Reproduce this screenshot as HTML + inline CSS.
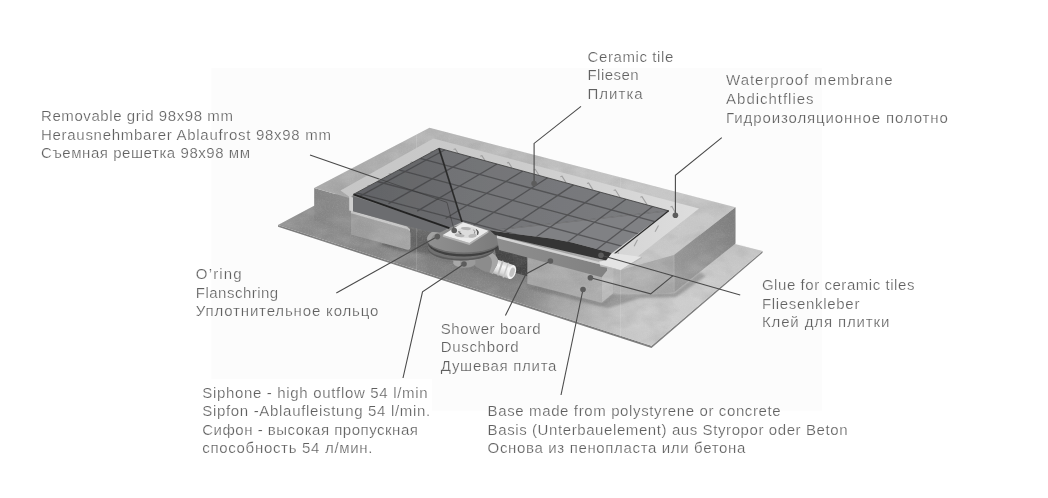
<!DOCTYPE html>
<html><head><meta charset="utf-8"><title>Shower drain diagram</title>
<style>
html,body{margin:0;padding:0;background:#fff;}
body{width:1048px;height:498px;overflow:hidden;position:relative;font-family:"Liberation Sans",sans-serif;}
svg{position:absolute;left:0;top:0;display:block}
text{font-family:"Liberation Sans",sans-serif;font-size:15px;fill:#5e5e5e;}
</style></head>
<body>
<svg width="1048" height="498" viewBox="0 0 1048 498">
<defs>
<linearGradient id="gSlab" gradientUnits="userSpaceOnUse" x1="280" y1="0" x2="760" y2="0">
<stop offset="0" stop-color="#8e8e8e"/><stop offset="0.2" stop-color="#878787"/><stop offset="0.29" stop-color="#808080"/><stop offset="0.5" stop-color="#868686"/><stop offset="0.6" stop-color="#a0a0a0"/><stop offset="0.7" stop-color="#b6b6b6"/><stop offset="0.82" stop-color="#c1c1c1"/><stop offset="1" stop-color="#b8b8b8"/></linearGradient>
<linearGradient id="gTop" gradientUnits="userSpaceOnUse" x1="314" y1="0" x2="736" y2="0">
<stop offset="0" stop-color="#a8a8a8"/><stop offset="0.4" stop-color="#b8b8b8"/><stop offset="0.8" stop-color="#c8c8c8"/><stop offset="1" stop-color="#c6c6c6"/></linearGradient>
<linearGradient id="gMem" gradientUnits="userSpaceOnUse" x1="338" y1="0" x2="700" y2="0">
<stop offset="0" stop-color="#c6c6c6"/><stop offset="0.5" stop-color="#cccccc"/><stop offset="0.85" stop-color="#d8d8d8"/><stop offset="1" stop-color="#dedede"/></linearGradient>
<linearGradient id="gTile" gradientUnits="userSpaceOnUse" x1="354" y1="0" x2="668" y2="0">
<stop offset="0" stop-color="#6c6d70"/><stop offset="0.45" stop-color="#747578"/><stop offset="1" stop-color="#7c7d80"/></linearGradient>
<linearGradient id="gTileL" gradientUnits="userSpaceOnUse" x1="354" y1="0" x2="462" y2="0"><stop offset="0" stop-color="#626366"/><stop offset="1" stop-color="#6b6c6f"/></linearGradient>
<linearGradient id="gLeftFace" gradientUnits="userSpaceOnUse" x1="314" y1="0" x2="351" y2="0">
<stop offset="0" stop-color="#848484"/><stop offset="1" stop-color="#8c8c8c"/></linearGradient>
<linearGradient id="gRight" gradientUnits="userSpaceOnUse" x1="674" y1="275" x2="736" y2="225">
<stop offset="0" stop-color="#9a9a9a"/><stop offset="0.5" stop-color="#8e8e8e"/><stop offset="1" stop-color="#7e7e7e"/></linearGradient>
<linearGradient id="gFoamL" gradientUnits="userSpaceOnUse" x1="351" y1="0" x2="410" y2="0">
<stop offset="0" stop-color="#9c9c9c"/><stop offset="1" stop-color="#a8a8a8"/></linearGradient>
<linearGradient id="gFoamR" gradientUnits="userSpaceOnUse" x1="528" y1="0" x2="613" y2="0">
<stop offset="0" stop-color="#a4a4a4"/><stop offset="1" stop-color="#b0b0b0"/></linearGradient>
<linearGradient id="gPipe" gradientUnits="userSpaceOnUse" x1="0" y1="255.5" x2="0" y2="270.5">
<stop offset="0" stop-color="#cfcfcf"/><stop offset="0.35" stop-color="#f6f6f6"/><stop offset="0.75" stop-color="#dcdcdc"/><stop offset="1" stop-color="#b4b4b4"/></linearGradient>
<linearGradient id="gFlange" gradientUnits="userSpaceOnUse" x1="428" y1="0" x2="500" y2="0">
<stop offset="0" stop-color="#909090"/><stop offset="0.5" stop-color="#868686"/><stop offset="1" stop-color="#7a7a7a"/></linearGradient>
<linearGradient id="gSlabV" gradientUnits="userSpaceOnUse" x1="560" y1="280" x2="590" y2="345">
<stop offset="0" stop-color="#ffffff" stop-opacity="0"/><stop offset="1" stop-color="#ffffff" stop-opacity="0.22"/></linearGradient>
<filter id="soft" x="-2%" y="-2%" width="104%" height="104%"><feGaussianBlur stdDeviation="0.45"/></filter>
<filter id="blur1" x="-10%" y="-50%" width="120%" height="200%"><feGaussianBlur stdDeviation="1.2"/></filter>
<filter id="blur2" x="-10%" y="-30%" width="120%" height="160%"><feGaussianBlur stdDeviation="2.5"/></filter>
<linearGradient id="gFrontR" gradientUnits="userSpaceOnUse" x1="613" y1="0" x2="674" y2="0">
<stop offset="0" stop-color="#b4b4b4"/><stop offset="1" stop-color="#a6a6a6"/></linearGradient>
<linearGradient id="gBoard" gradientUnits="userSpaceOnUse" x1="497" y1="0" x2="607" y2="0">
<stop offset="0" stop-color="#8e8e8e"/><stop offset="1" stop-color="#818181"/></linearGradient>
<filter id="grain" x="0" y="0" width="100%" height="100%">
<feTurbulence type="fractalNoise" baseFrequency="0.75" numOctaves="2" seed="7" result="n"/>
<feColorMatrix in="n" type="matrix" values="0 0 0 0 0.5  0 0 0 0 0.5  0 0 0 0 0.5  1.6 1.6 0 0 -1.35"/></filter>
<filter id="grainL" x="0" y="0" width="100%" height="100%">
<feTurbulence type="fractalNoise" baseFrequency="0.75" numOctaves="2" seed="11" result="n"/>
<feColorMatrix in="n" type="matrix" values="0 0 0 0 1  0 0 0 0 1  0 0 0 0 1  0 1.6 1.6 0 -1.35"/></filter>
<filter id="mottle" x="0" y="0" width="100%" height="100%">
<feTurbulence type="fractalNoise" baseFrequency="0.035 0.06" numOctaves="3" seed="5" result="n"/>
<feColorMatrix in="n" type="matrix" values="0 0 0 0 1  0 0 0 0 1  0 0 0 0 1  2.2 0 0 0 -0.95"/></filter>
<filter id="mottleD" x="0" y="0" width="100%" height="100%">
<feTurbulence type="fractalNoise" baseFrequency="0.04 0.07" numOctaves="3" seed="21" result="n"/>
<feColorMatrix in="n" type="matrix" values="0 0 0 0 0.25  0 0 0 0 0.25  0 0 0 0 0.25  0 2.2 0 0 -0.95"/></filter>
<clipPath id="cConc"><polygon points="278,225 314.2,206 314.2,188 429.5,127.7 735.5,207.3 735.5,243 762.5,251 762.5,252.8 651.5,348 278,226.8"/></clipPath>
<clipPath id="cTile"><polygon points="353.4,194.4 439,148.2 668.7,210.8 612,253 572,242.6 551,238.5 490,230.6 462,222 449.4,228.1"/></clipPath>
</defs>
<rect x="211.5" y="68" width="610.5" height="342.5" fill="#fcfcfc"/>
<rect x="200" y="379" width="232" height="40" fill="#ffffff"/>
<g id="sceneA" filter="url(#soft)">
<polygon points="278.0,226.8 651.5,348.0 762.5,252.8 762.5,251.0 651.5,345.8 278.0,225.0" fill="#7a7a7a" />
<polygon points="278.0,225.0 400.0,160.0 762.5,251.0 651.5,345.8" fill="url(#gSlab)" />
<polygon points="278.0,225.0 400.0,160.0 762.5,251.0 651.5,345.8" fill="url(#gSlabV)" />
<polygon points="350.0,232.0 410.0,250.0 430.0,258.0 500.0,279.0 530.0,286.0 602.0,305.0 613.0,296.0 613.0,280.0 500.0,240.0 430.0,226.0" fill="#606060" opacity="0.38" filter="url(#blur2)"/>
<polygon points="527.0,284.0 602.0,303.3 613.0,294.0 674.0,293.0 700.0,272.0 706.0,276.0 676.0,297.0 640.0,298.0 608.0,308.0 527.0,288.5" fill="#707070" opacity="0.5" filter="url(#blur1)"/>
<polygon points="314.2,188.0 350.4,198.2 350.4,234.0 314.2,220.6" fill="url(#gLeftFace)" />
<polygon points="314.2,188.0 429.5,127.7 735.5,207.3 674.0,255.0 620.5,270.0 606.0,260.5 490.0,230.6 449.4,228.1 353.4,194.4 350.4,198.2" fill="url(#gTop)" />
<polygon points="408.0,227.0 430.0,231.5 434.0,254.0 404.0,251.5 380.0,245.0" fill="#5e5e5e" opacity="0.85" filter="url(#blur1)"/>
<path d="M351 213 L406 228.8 Q410.5 230.2 410.5 234 L410.5 246.5 Q410.5 250.6 406.5 249.4 L351 234.5 Z" fill="url(#gFoamL)"/>
<polygon points="351.0,210.5 407.0,226.5 410.0,229.0 410.0,231.5 407.0,229.3 351.0,213.3" fill="#c8c8c8" />
<polygon points="494.0,244.0 530.0,253.0 530.0,277.0 498.0,268.0" fill="#3c3c3c" />
<polygon points="613.5,268.0 620.5,270.0 674.0,255.0 674.2,292.5 650.0,294.0 613.5,292.5" fill="url(#gFrontR)" />
<polygon points="527.3,254.0 601.7,274.0 601.7,302.8 527.3,283.7" fill="url(#gFoamR)" />
<polygon points="601.7,272.0 613.1,266.0 613.1,293.3 601.7,302.8" fill="#bcbcbc" />
<polygon points="735.5,207.3 735.5,243.5 674.0,292.5 674.0,255.0" fill="url(#gRight)" />
<line x1="674.0" y1="255.0" x2="674.2" y2="292.5" stroke="#c0c0c0" stroke-width="1.0" opacity="0.5"/>
</g>
<g clip-path="url(#cConc)">
<rect x="270" y="120" width="500" height="235" filter="url(#mottle)" opacity="0.13"/>
<rect x="270" y="120" width="500" height="235" filter="url(#mottleD)" opacity="0.22"/>
<rect x="270" y="120" width="500" height="235" filter="url(#grain)" opacity="0.10"/>
<rect x="270" y="120" width="500" height="235" filter="url(#grainL)" opacity="0.05"/>
</g>
<g clip-path="url(#cConc)"><rect x="416" y="120" width="1" height="240" fill="#fff" opacity="0.13"/><rect x="620" y="120" width="1" height="240" fill="#fff" opacity="0.11"/></g>
<g id="sceneB" filter="url(#soft)">
<polygon points="340.5,190.6 433.4,138.6 699.0,208.5 620.5,270.0 606.0,260.5 353.4,194.4 350.4,197.5" fill="url(#gMem)" />
<polygon points="349.2,196.5 353.0,197.4 353.0,211.6 349.2,210.6" fill="#cfcfcf" />
<path d="M453.6 149.4 L455.2 148.8 L458.0 153.2" stroke="#8a8a8a" stroke-width="1.1" fill="none" opacity="0.7"/><path d="M480.3 156.2 L481.9 155.6 L485.0 160.6" stroke="#8a8a8a" stroke-width="1.1" fill="none" opacity="0.7"/><path d="M507.0 163.1 L508.6 162.5 L512.0 167.9" stroke="#8a8a8a" stroke-width="1.1" fill="none" opacity="0.7"/><path d="M533.7 169.9 L535.3 169.3 L539.0 175.2" stroke="#8a8a8a" stroke-width="1.1" fill="none" opacity="0.7"/><path d="M560.4 176.7 L562.0 176.1 L566.0 182.6" stroke="#8a8a8a" stroke-width="1.1" fill="none" opacity="0.7"/><path d="M587.0 183.5 L588.6 182.9 L593.0 189.9" stroke="#8a8a8a" stroke-width="1.1" fill="none" opacity="0.7"/><path d="M613.7 190.4 L615.3 189.8 L620.0 197.2" stroke="#8a8a8a" stroke-width="1.1" fill="none" opacity="0.7"/><path d="M640.4 197.2 L642.0 196.6 L647.0 204.6" stroke="#8a8a8a" stroke-width="1.1" fill="none" opacity="0.7"/><path d="M670.4 207.0 L672.0 206.4 L675.5 212.9" stroke="#8a8a8a" stroke-width="1.1" fill="none" opacity="0.7"/><path d="M367.4 186.1 L369.0 185.5 L371.6 189.1" stroke="#8a8a8a" stroke-width="1.1" fill="none" opacity="0.7"/><path d="M388.6 174.3 L390.2 173.7 L392.9 177.3" stroke="#8a8a8a" stroke-width="1.1" fill="none" opacity="0.7"/><path d="M410.4 162.6 L412.0 162.0 L414.6 165.6" stroke="#8a8a8a" stroke-width="1.1" fill="none" opacity="0.7"/><path d="M430.4 152.0 L432.0 151.4 L434.6 155.0" stroke="#8a8a8a" stroke-width="1.1" fill="none" opacity="0.7"/><path d="M658.5 225.4 l-3.4 6.4" stroke="#8a8a8a" stroke-width="1.1" fill="none" opacity="0.7"/><path d="M637.5 239.8 l-3.4 6.4" stroke="#8a8a8a" stroke-width="1.1" fill="none" opacity="0.7"/><path d="M618.7 252.5 l-3.4 6.4" stroke="#8a8a8a" stroke-width="1.1" fill="none" opacity="0.7"/>
<g transform="translate(2.4 5.2) rotate(19 498 263)"><rect x="482" y="255.8" width="28" height="14.4" fill="url(#gPipe)"/><ellipse cx="510" cy="263" rx="4.0" ry="7.2" fill="#f4f4f4"/><ellipse cx="510.4" cy="263" rx="2.4" ry="4.8" fill="#c4c4c4"/><rect x="491" y="255.2" width="1.8" height="15.6" fill="#b6b6b6"/><rect x="497" y="255.2" width="1.8" height="15.6" fill="#b6b6b6"/><rect x="503" y="255.2" width="1.5" height="15.6" fill="#c8c8c8"/></g>
<path d="M470 255 L492 253 Q500 257 497 265 L492 273 Q484 272 478 268 Q472 264 470 260 Z" fill="#8c8c8c"/>
<path d="M486 254.5 Q494 258 491.5 266 L489.5 272.4 L492 273 L497 265 Q500 257 492 253 Z" fill="#a6a6a6"/>
<path d="M453.4 258 L453.4 263.2 A11 4.6 0 0 0 475.4 263.2 L475.4 258 Z" fill="#9a9a9a"/>
<path d="M453.4 258 L453.4 263.2 A11 4.6 0 0 0 460 266.8 L460 258 Z" fill="#aeaeae" opacity="0.7"/>
<ellipse cx="461.2" cy="248.4" rx="33.6" ry="12" fill="#6f6f6f"/>
<path d="M427.6 248.4 A33.6 12 0 0 0 494.8 248.4 L494.8 246.8 A33.6 12 0 0 1 427.6 246.8 Z" fill="#5a5a5a"/>
<ellipse cx="463.6" cy="243.2" rx="35.6" ry="13.2" fill="#3f3f3f"/>
<ellipse cx="464" cy="240.6" rx="37" ry="13.6" fill="#6a6a6a"/>
<ellipse cx="464" cy="239" rx="37" ry="13.6" fill="url(#gFlange)"/>
<path d="M427 239.6 A37 13.6 0 0 1 446 227 L448 229.6 A32 11 0 0 0 431.5 240.4 Z" fill="#a8a8a8" opacity="0.75"/>
<polygon points="353.0,196.0 449.4,228.1 440.0,232.6 428.0,231.6 407.0,226.0 353.0,211.2" fill="#6c6d70" />
<polygon points="353.4,194.4 439.0,148.2 462.0,222.0 449.4,228.1" fill="url(#gTileL)" />
<polygon points="439.0,148.2 668.7,210.8 490.0,230.6 462.0,222.0" fill="url(#gTile)" />
<polygon points="490.0,230.6 668.7,210.8 612.0,253.0 572.0,242.6 551.0,238.5" fill="#808184" />
<polygon points="490.0,230.6 551.0,238.5 572.0,242.6 612.0,253.0 606.0,260.5 495.0,235.0" fill="#343434" />
<g clip-path="url(#cTile)" opacity="0.62"><line x1="445.0" y1="149.8" x2="360.0" y2="196.1" stroke="#3c3c3e" stroke-width="1.3" /><line x1="470.9" y1="156.9" x2="388.5" y2="203.6" stroke="#3c3c3e" stroke-width="1.3" /><line x1="497.0" y1="164.0" x2="417.2" y2="211.1" stroke="#3c3c3e" stroke-width="1.3" /><line x1="522.8" y1="171.0" x2="445.6" y2="218.5" stroke="#3c3c3e" stroke-width="1.3" /><line x1="547.6" y1="177.8" x2="472.9" y2="225.7" stroke="#3c3c3e" stroke-width="1.3" /><line x1="573.5" y1="184.9" x2="501.3" y2="233.1" stroke="#3c3c3e" stroke-width="1.3" /><line x1="600.2" y1="192.1" x2="530.7" y2="240.8" stroke="#3c3c3e" stroke-width="1.3" /><line x1="626.0" y1="199.2" x2="559.0" y2="248.2" stroke="#3c3c3e" stroke-width="1.3" /><line x1="652.6" y1="206.4" x2="588.3" y2="255.9" stroke="#3c3c3e" stroke-width="1.3" /><line x1="420.2" y1="158.4" x2="654.9" y2="221.7" stroke="#3c3c3e" stroke-width="1.3" /><line x1="398.8" y1="169.9" x2="639.2" y2="234.2" stroke="#3c3c3e" stroke-width="1.3" /><line x1="377.4" y1="181.5" x2="623.6" y2="246.6" stroke="#3c3c3e" stroke-width="1.3" /><line x1="356.4" y1="192.8" x2="608.2" y2="258.8" stroke="#3c3c3e" stroke-width="1.3" /></g>
<line x1="439.0" y1="148.2" x2="462.0" y2="222.0" stroke="#2c2c2c" stroke-width="1.7" />
<line x1="490.0" y1="230.6" x2="668.7" y2="210.8" stroke="#4a4a4a" stroke-width="0.7" opacity="0.6"/>
<line x1="353.4" y1="194.4" x2="449.4" y2="228.1" stroke="#242424" stroke-width="2.0" />
<line x1="353.4" y1="194.4" x2="439.0" y2="148.2" stroke="#3a3a3a" stroke-width="0.8" />
<line x1="439.0" y1="148.2" x2="668.7" y2="210.8" stroke="#3a3a3a" stroke-width="0.8" />
<line x1="668.7" y1="210.8" x2="606.0" y2="260.5" stroke="#2c2c2c" stroke-width="1.3" />
<polygon points="497.0,238.2 600.5,264.6 607.0,267.2 607.0,270.5 601.7,277.2 499.0,250.0" fill="url(#gBoard)" />
<polygon points="496.8,235.6 599.1,261.9 600.5,264.6 497.0,238.2" fill="#d2d2d2" />
<polygon points="599.0,261.6 606.0,260.5 612.0,253.0 642.0,257.0 620.5,270.0 600.3,265.2" fill="#e4e4e4" />
<polygon points="600.3,264.4 620.5,270.0 642.0,256.6 642.0,258.2 620.5,270.0 600.3,266.4" fill="#b9b9b9" />
<polygon points="442.8,235.1 469.4,243.0 488.5,230.7 488.5,232.4 469.4,244.9 442.8,236.8" fill="#b2b2b2" />
<polygon points="463.3,222.5 488.5,230.7 469.4,243.0 442.8,235.1" fill="#ebebeb" />
<ellipse cx="467.4" cy="232.4" rx="11.4" ry="5.7" fill="#dcdcdc" transform="rotate(-2 467.4 232.4)"/>
<ellipse cx="466" cy="228.6" rx="5" ry="1.5" fill="#b4b4b4" transform="rotate(6 466 228.6)"/>
<ellipse cx="459.6" cy="235.4" rx="5" ry="1.6" fill="#b4b4b4" transform="rotate(8 459.6 235.4)"/>
<ellipse cx="472.6" cy="235.8" rx="4.2" ry="1.9" fill="#b8b8b8" transform="rotate(-8 472.6 235.8)"/>
<path d="M476.4 229.4 Q479.6 231.6 477.6 234.8 Q478.2 231.8 476.4 229.4 Z" fill="#4e4e4e" stroke="#555" stroke-width="0.8"/>
<path d="M473.4 229.6 Q475.6 231.4 474.4 233.6" fill="none" stroke="#777" stroke-width="0.8"/>
<path d="M458.2 231.8 l2.2 0.5 M459.6 233.4 l1.8 0.3" fill="none" stroke="#555" stroke-width="1.1"/>
</g>
<g id="leaders">
<polyline points="310.0,155.0 379.0,178.9" fill="none" stroke="#4a4a4a" stroke-width="1.1"/>
<polyline points="379.0,178.9 447.0,202.4 454.2,230.5" fill="none" stroke="#2e2e2e" stroke-width="0.9" opacity="0.55"/>
<polyline points="581.0,106.4 534.1,143.4 534.1,183.5" fill="none" stroke="#4a4a4a" stroke-width="1.1" stroke-linejoin="miter"/>
<polyline points="721.8,137.6 675.4,175.2 675.4,215.3" fill="none" stroke="#4a4a4a" stroke-width="1.1" stroke-linejoin="miter"/>
<polyline points="336.3,293.0 437.4,236.6" fill="none" stroke="#4a4a4a" stroke-width="1.1" stroke-linejoin="miter"/>
<polyline points="403.0,378.0 422.5,291.9 464.0,264.0" fill="none" stroke="#4a4a4a" stroke-width="1.1" stroke-linejoin="miter"/>
<polyline points="505.4,315.5 526.0,274.0 550.4,261.0" fill="none" stroke="#4a4a4a" stroke-width="1.1" stroke-linejoin="miter"/>
<polyline points="561.0,395.0 583.0,289.5" fill="none" stroke="#4a4a4a" stroke-width="1.1" stroke-linejoin="miter"/>
<polyline points="740.2,295.0 601.0,255.3" fill="none" stroke="#4a4a4a" stroke-width="1.1" stroke-linejoin="miter"/>
<polyline points="673.0,275.6 650.7,293.9 590.4,277.7" fill="none" stroke="#4a4a4a" stroke-width="1.1" stroke-linejoin="miter"/>
<circle cx="454.2" cy="230.5" r="2.8" fill="#5c5c5c"/>
<circle cx="534.1" cy="183.5" r="2.8" fill="#5c5c5c"/>
<circle cx="675.4" cy="215.3" r="2.8" fill="#5c5c5c"/>
<circle cx="437.4" cy="236.6" r="2.8" fill="#5c5c5c"/>
<circle cx="464" cy="264" r="2.8" fill="#5c5c5c"/>
<circle cx="550.4" cy="261" r="2.8" fill="#5c5c5c"/>
<circle cx="583" cy="289.5" r="2.8" fill="#5c5c5c"/>
<circle cx="601" cy="255.3" r="2.8" fill="#5c5c5c"/>
<circle cx="590.4" cy="277.7" r="2.8" fill="#5c5c5c"/>
</g>
<g id="labels" opacity="0.985" stroke="#ffffff" stroke-width="0.22">
<text x="41.0" y="121" textLength="191.9" lengthAdjust="spacing">Removable grid 98x98 mm</text>
<text x="41.0" y="140" textLength="290.0" lengthAdjust="spacing">Herausnehmbarer Ablaufrost 98x98 mm</text>
<text x="41.0" y="158.1" textLength="209.0" lengthAdjust="spacing">Съемная решетка 98x98 мм</text>
<text x="587.5" y="61.5" textLength="85.8" lengthAdjust="spacing">Ceramic tile</text>
<text x="587.5" y="80.2" textLength="51.0" lengthAdjust="spacing">Fliesen</text>
<text x="587.5" y="98.6" textLength="55.2" lengthAdjust="spacing">Плитка</text>
<text x="726.1" y="85.4" textLength="166.4" lengthAdjust="spacing">Waterproof membrane</text>
<text x="726.1" y="104.2" textLength="87.4" lengthAdjust="spacing">Abdichtflies</text>
<text x="726.1" y="122.6" textLength="221.8" lengthAdjust="spacing">Гидроизоляционное полотно</text>
<text x="195.8" y="279" textLength="45.9" lengthAdjust="spacing">O’ring</text>
<text x="195.8" y="297.8" textLength="82.4" lengthAdjust="spacing">Flanschring</text>
<text x="195.8" y="316" textLength="182.6" lengthAdjust="spacing">Уплотнительное кольцо</text>
<text x="440.7" y="334" textLength="100.0" lengthAdjust="spacing">Shower board</text>
<text x="440.7" y="352.4" textLength="78.0" lengthAdjust="spacing">Duschbord</text>
<text x="440.7" y="370.6" textLength="115.7" lengthAdjust="spacing">Душевая плита</text>
<text x="202.2" y="398" textLength="225.3" lengthAdjust="spacing">Siphone - high outflow 54 l/min</text>
<text x="202.2" y="416.4" textLength="228.0" lengthAdjust="spacing">Sipfon -Ablaufleistung 54 l/min.</text>
<text x="202.2" y="435.2" textLength="215.7" lengthAdjust="spacing">Сифон - высокая пропускная</text>
<text x="202.2" y="453.2" textLength="170.3" lengthAdjust="spacing">способность 54 л/мин.</text>
<text x="487.6" y="416.2" textLength="293.1" lengthAdjust="spacing">Base made from polystyrene or concrete</text>
<text x="487.6" y="435.2" textLength="359.9" lengthAdjust="spacing">Basis (Unterbauelement) aus Styropor oder Beton</text>
<text x="487.6" y="453.2" textLength="257.7" lengthAdjust="spacing">Основа из пенопласта или бетона</text>
<text x="761.9" y="290.2" textLength="152.5" lengthAdjust="spacing">Glue for ceramic tiles</text>
<text x="761.9" y="309" textLength="97.5" lengthAdjust="spacing">Fliesenkleber</text>
<text x="761.9" y="327.2" textLength="127.5" lengthAdjust="spacing">Клей для плитки</text>
</g>
</svg>
</body></html>
